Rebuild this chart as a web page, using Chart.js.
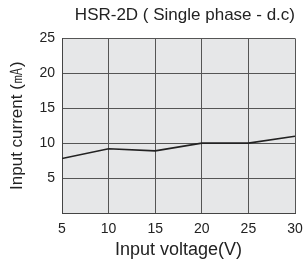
<!DOCTYPE html>
<html><head><meta charset="utf-8">
<script src="https://cdn.jsdelivr.net/npm/chart.js@4/dist/chart.umd.min.js"></script>
<style>html,body{margin:0;padding:0;background:#fff}#wrap{width:304px;height:265px}</style>
</head><body><div id="wrap"><canvas id="c" width="304" height="265"></canvas></div>
<script>
const voltages = [5, 10, 15, 20, 25, 30];
const currents = [7.8, 9.2, 8.9, 10, 10, 11];
const yTicks = [5, 10, 15, 20, 25];
const xTicks = [5, 10, 15, 20, 25, 30];
const titleText = 'HSR-2D ( Single phase - d.c)';
const xTitle = 'Input voltage(V)';
const yTitle = 'Input current (㎃)';

const FONT = "'Liberation Sans', Arial, sans-serif";
const bgPlugin = {
  id: 'bg',
  beforeDraw(chart) {
    const {ctx, chartArea: a} = chart;
    ctx.save();
    ctx.fillStyle = '#e6e7e8';
    ctx.fillRect(a.left, a.top, a.right - a.left, a.bottom - a.top);
    ctx.restore();
  }
};
new Chart(document.getElementById('c'), {
  type: 'line',
  data: {
    datasets: [{
      data: voltages.map((v, i) => ({x: v, y: currents[i]})),
      borderColor: '#222',
      borderWidth: 1.6,
      pointRadius: 0,
      tension: 0
    }]
  },
  options: {
    responsive: false,
    animation: false,
    devicePixelRatio: 1,
    layout: {padding: {left: 0, right: 9, top: 0, bottom: 0}},
    plugins: {
      legend: {display: false},
      tooltip: {enabled: false},
      title: {
        display: true, text: titleText, align: 'end', fullSize: false,
        color: '#222', font: {family: FONT, size: 17, weight: 'normal'},
        padding: {top: 5, bottom: 13}
      }
    },
    scales: {
      x: {
        type: 'linear', min: 5, max: 30,
        afterBuildTicks: s => { s.ticks = xTicks.map(v => ({value: v})); },
        afterFit: s => { s.height = 52; },
        grid: {color: '#555', lineWidth: 1, drawTicks: true, tickLength: 8, tickColor: 'rgba(0,0,0,0)'},
        border: {color: '#444', width: 1},
        ticks: {color: '#222', font: {family: FONT, size: 14}, padding: 0, maxRotation: 0},
        title: {display: true, text: xTitle, color: '#222', font: {family: FONT, size: 18}, padding: {top: 0, bottom: 4}}
      },
      y: {
        type: 'linear', min: 0, max: 25,
        afterBuildTicks: s => { s.ticks = [0].concat(yTicks).map(v => ({value: v})); },
        afterFit: s => { s.width = 62; },
        grid: {color: '#555', lineWidth: 1, drawTicks: false},
        border: {color: '#444', width: 1},
        ticks: {color: '#222', font: {family: FONT, size: 14}, padding: 7,
          callback: v => yTicks.includes(v) ? String(v) : ''},
        title: {display: true, text: yTitle, color: '#222', font: {family: FONT, size: 17}, padding: {top: 7, bottom: 0}}
      }
    }
  },
  plugins: [bgPlugin]
});
</script></body></html>
